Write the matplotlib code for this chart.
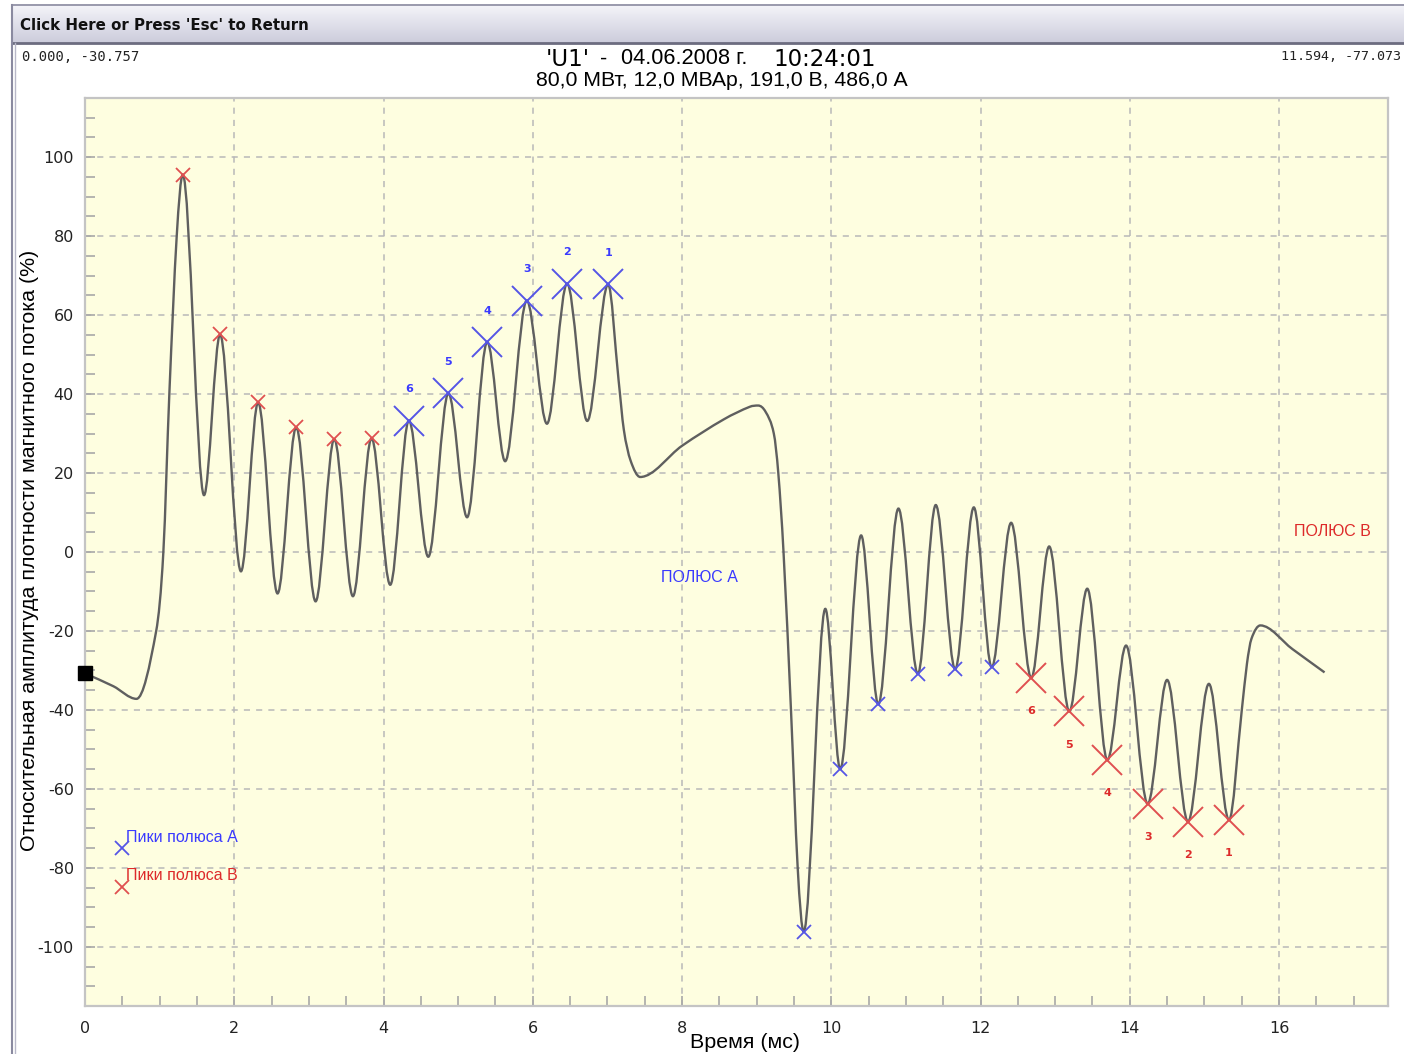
import numpy as np
import matplotlib
matplotlib.use('Agg')
import matplotlib.pyplot as plt
from matplotlib.path import Path
from matplotlib.patches import PathPatch
from matplotlib.ticker import MultipleLocator

plt.rcParams['axes.unicode_minus'] = False

# ---------------- data ----------------
t_curve = [0.00, 0.38, 0.69, 0.954, 1.05, 1.13, 1.229, 1.31,
           1.595, 1.81, 2.09, 2.32, 2.58, 2.83, 3.09, 3.34, 3.59, 3.84,
           4.09, 4.34, 4.60, 4.87, 5.12, 5.39, 5.63, 5.92, 6.19, 6.46,
           6.73, 7.01, 7.15, 7.22, 7.31, 7.44, 8.00, 8.56, 8.91, 9.02, 9.12, 9.23,
           9.29, 9.36, 9.46, 9.55, 9.63, 9.92, 10.12, 10.40, 10.63, 10.90,
           11.16, 11.40, 11.66, 11.91, 12.15, 12.41, 12.68, 12.92, 13.19,
           13.43, 13.70, 13.95, 14.24, 14.50, 14.78, 15.06, 15.33, 15.50,
           15.57, 15.63, 15.75, 16.18, 16.61]
v_curve = [-30.76, -34.0, -37.2, -20.0, 0.0, 40.0, 80.0, 95.6,
           14.4, 55.1, -4.9, 37.9, -10.5, 31.6, -12.5, 28.6, -11.2, 28.8,
           -8.3, 33.3, -1.2, 40.2, 8.8, 53.2, 23.0, 63.7, 32.5, 68.0,
           33.2, 67.8, 43.5, 31.0, 23.2, 19.0, 26.9, 33.6, 36.8, 37.1, 35.5, 30.0,
           20.0, 0.0, -40.0, -80.0, -96.2, -14.4, -55.0, 4.2, -38.6, 11.0,
           -30.9, 11.9, -29.7, 11.3, -29.2, 7.4, -31.9, 1.4, -40.4,
           -9.3, -52.7, -23.7, -63.8, -32.4, -68.3, -33.4, -67.9, -40.2,
           -28.3, -22.0, -18.6, -24.6, -30.5]

# small markers: pole B peaks (red) and pole A peaks (blue)
pkB_small_t = [1.31, 1.81, 2.32, 2.83, 3.34, 3.84]
pkB_small_v = [95.6, 55.1, 37.9, 31.6, 28.6, 28.8]
pkA_small_t = [9.63, 10.12, 10.63, 11.16, 11.66, 12.15]
pkA_small_v = [-96.2, -55.0, -38.6, -30.9, -29.7, -29.2]

# large numbered markers
num_labels = ['1', '2', '3', '4', '5', '6']
pkA_big_t = [7.01, 6.46, 5.92, 5.39, 4.87, 4.34]
pkA_big_v = [67.8, 68.0, 63.7, 53.2, 40.2, 33.3]
pkB_big_t = [15.33, 14.78, 14.24, 13.70, 13.19, 12.68]
pkB_big_v = [-67.9, -68.3, -63.8, -52.7, -40.4, -31.9]

legend_t = [0.50, 0.50]
legend_v = [-75.1, -84.8]
legend_labels = ['Пики полюса А', 'Пики полюса В']

start_point = (0.0, -30.76)

x_ticks = [0, 2, 4, 6, 8, 10, 12, 14, 16]
y_ticks = [-100, -80, -60, -40, -20, 0, 20, 40, 60, 80, 100]

title_l1 = ["'U1'", "-", "04.06.2008 г.", "10:24:01"]
title_l2 = "80,0 МВт, 12,0 МВАр, 191,0 В, 486,0 А"
corner_left = "0.000, -30.757"
corner_right = "11.594, -77.073"
window_title = "Click Here or Press 'Esc' to Return"
xlabel = "Время (мс)"
ylabel = "Относительная амплитуда плотности магнитного потока (%)"
poleA_text = "ПОЛЮС А"
poleB_text = "ПОЛЮС В"

# ---------------- figure ----------------
W, H = 1404, 1054
fig = plt.figure(figsize=(W / 100, H / 100), dpi=100)
fig.patch.set_facecolor('white')


def fx(px):
    return px / W


def fy(py):
    return 1 - py / H


# window chrome: title bar with gradient
bar = fig.add_axes([fx(12), fy(43), 1 - fx(12), (43 - 4) / H])
grad = np.linspace(0, 1, 64)[:, None]
c_top = np.array([0.96, 0.96, 0.98])
c_bot = np.array([0.80, 0.80, 0.86])
img = c_top[None, None, :] * (1 - grad[..., None]) + c_bot[None, None, :] * grad[..., None]
bar.imshow(img, aspect='auto', extent=[0, 1, 0, 1])
bar.set_axis_off()
fig.add_artist(plt.Line2D([fx(12), 1], [fy(43), fy(43)], color='#6c6c80', lw=2.0))
fig.add_artist(plt.Line2D([fx(12), 1], [fy(4.5), fy(4.5)], color='#8a8aa0', lw=1.2))
fig.add_artist(plt.Line2D([fx(12), fx(12)], [fy(4.5), 0], color='#8a8aa0', lw=1.5))
fig.add_artist(plt.Line2D([fx(15), fx(15)], [fy(43), 0], color='#b8b8c8', lw=1.0))
fig.text(fx(20), fy(25), window_title, fontsize=10.8, fontweight='bold',
         family='DejaVu Sans', va='center', ha='left', color='#111111')

# corner texts
fig.text(fx(22), fy(57), corner_left, fontsize=10, family='DejaVu Sans Mono',
         va='center', ha='left', color='#222222')
fig.text(fx(1281), fy(57), corner_right, fontsize=9.6, family='DejaVu Sans Mono',
         va='center', ha='left', color='#222222')

# title
fig.text(fx(546), fy(59), title_l1[0], fontsize=16.5, family='DejaVu Sans', va='center', ha='left')
fig.text(fx(600), fy(59), title_l1[1], fontsize=15.5, family='Liberation Sans', va='center', ha='left')
fig.text(fx(621), fy(59), title_l1[2], fontsize=15.7, family='Liberation Sans', va='center', ha='left')
fig.text(fx(773), fy(59), title_l1[3], fontsize=16.5, family='DejaVu Sans', va='center', ha='left')
fig.text(fx(721.5), fy(80), title_l2, fontsize=15.3, family='Liberation Sans', va='center', ha='center')

# ---------------- axes ----------------
ax = fig.add_axes([fx(85), 1 - 1006 / H, (1388 - 85) / W, (1006 - 98) / H])
ax.set_facecolor('#fefee0')
ax.set_xlim(0, 17.46)
ax.set_ylim(-115, 115)

for s in ax.spines.values():
    s.set_color('#c4c4c4')
    s.set_linewidth(1.6)

ax.set_xticks(x_ticks)
ax.set_yticks(y_ticks)
ax.xaxis.set_minor_locator(MultipleLocator(0.5))
ax.yaxis.set_minor_locator(MultipleLocator(5))
ax.tick_params(which='both', direction='in', color='#a8a8a8', width=1.2)
ax.tick_params(which='minor', length=7)
ax.tick_params(which='major', length=7)
ax.tick_params(axis='x', labelsize=11.5, pad=11, labelcolor='#222222')
ax.tick_params(axis='y', labelsize=11.5, pad=8, labelcolor='#222222')
for lab in ax.get_xticklabels() + ax.get_yticklabels():
    lab.set_family('DejaVu Sans')

ax.grid(True, which='major', color='#b8b8b8', linestyle=(0, (4, 4)), linewidth=1.1)
ax.set_axisbelow(True)

# curve drawn as a smooth Bezier path through the read vertices
t = np.asarray(t_curve, float)
v = np.asarray(v_curve, float)
h = np.diff(t)
d = np.diff(v) / h
m = np.zeros_like(v)
for k in range(1, len(t) - 1):
    if d[k - 1] * d[k] <= 0:
        m[k] = 0.0
    else:
        c = (v[k + 1] - v[k - 1]) / (t[k + 1] - t[k - 1])
        lim = 3 * min(abs(d[k - 1]), abs(d[k]))
        m[k] = np.sign(c) * min(abs(c), lim)
m[0] = d[0]
m[-1] = d[-1]
verts = [(t[0], v[0])]
codes = [Path.MOVETO]
for k in range(len(t) - 1):
    hk = h[k]
    verts += [(t[k] + hk / 3, v[k] + m[k] * hk / 3),
              (t[k + 1] - hk / 3, v[k + 1] - m[k + 1] * hk / 3),
              (t[k + 1], v[k + 1])]
    codes += [Path.CURVE4] * 3
ax.add_patch(PathPatch(Path(verts, codes), fill=False, edgecolor='#5f5f5f',
                       linewidth=1.7, zorder=3))

blue_m = '#5555e6'
red_m = '#e05050'
blue_t = '#3a3aff'
red_t = '#dd2a2a'

ax.plot(pkB_small_t, pkB_small_v, 'x', color=red_m, ms=10, mew=1.3, zorder=4, linestyle='none')
ax.plot(pkA_small_t, pkA_small_v, 'x', color=blue_m, ms=10, mew=1.3, zorder=4, linestyle='none')
ax.plot(pkA_big_t, pkA_big_v, 'x', color=blue_m, ms=21, mew=1.4, zorder=4, linestyle='none')
ax.plot(pkB_big_t, pkB_big_v, 'x', color=red_m, ms=21, mew=1.4, zorder=4, linestyle='none')

for lab, tt, vv in zip(num_labels, pkA_big_t, pkA_big_v):
    ax.annotate(lab, (tt, vv), xytext=(0, 22.5), textcoords='offset points',
                ha='center', va='center', fontsize=8, fontweight='bold',
                color=blue_t, family='DejaVu Sans')
for lab, tt, vv in zip(num_labels, pkB_big_t, pkB_big_v):
    ax.annotate(lab, (tt, vv), xytext=(0, -24), textcoords='offset points',
                ha='center', va='center', fontsize=8, fontweight='bold',
                color=red_t, family='DejaVu Sans')

# legend entries
ax.plot(legend_t[0], legend_v[0], 'x', color=blue_m, ms=10, mew=1.3, zorder=4)
ax.plot(legend_t[1], legend_v[1], 'x', color=red_m, ms=10, mew=1.3, zorder=4)
ax.annotate(legend_labels[0], (legend_t[0], legend_v[0]), xytext=(3, 8),
            textcoords='offset points', ha='left', va='center', fontsize=11.5,
            color=blue_t, family='Liberation Sans')
ax.annotate(legend_labels[1], (legend_t[1], legend_v[1]), xytext=(3, 8),
            textcoords='offset points', ha='left', va='center', fontsize=11.5,
            color=red_t, family='Liberation Sans')

# pole labels
ax.text(8.24, -6.5, poleA_text, color=blue_t, fontsize=11.5, family='Liberation Sans',
        ha='center', va='center')
ax.text(16.71, 5.2, poleB_text, color=red_t, fontsize=11.5, family='Liberation Sans',
        ha='center', va='center')

# start point square
ax.plot([start_point[0]], [start_point[1]], 's', color='black', ms=10, clip_on=False, zorder=6)

# axis labels
fig.text(fx(745), fy(1042), xlabel, fontsize=15.4, family='Liberation Sans', ha='center', va='center')
fig.text(fx(30), fy(550), ylabel, fontsize=15.4, family='Liberation Sans', ha='center',
         va='center', rotation=90)

fig.savefig('out.png', dpi=100, facecolor='white')
